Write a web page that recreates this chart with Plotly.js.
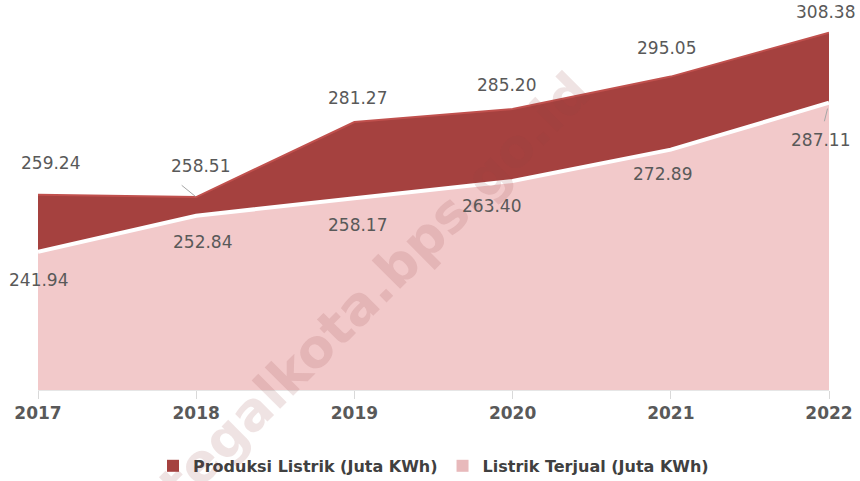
<!DOCTYPE html>
<html>
<head>
<meta charset="utf-8">
<script src="https://cdn.plot.ly/plotly-3.0.1.min.js"></script>
<style>html,body{margin:0;padding:0;background:#fff;}#chart{width:860px;height:481px;}</style>
</head>
<body>
<div id="chart"></div>
<script>
const years = [2017, 2018, 2019, 2020, 2021, 2022];
const produksi = [259.24, 258.51, 281.27, 285.20, 295.05, 308.38];
const terjual = [241.94, 252.84, 258.17, 263.40, 272.89, 287.11];
const seriesNames = ['Produksi Listrik (Juta KWh)', 'Listrik Terjual (Juta KWh)'];
const fillColors = ['#A5413F', '#F2C9CA'];
const legendColors = ['#A5413F', '#E8B9BB'];

// label offsets (px) for value labels
const prodShift = [[12, 32], [4, 31], [3, 24], [-6, 24], [-4, 29], [-4, 21]];
const terjShift = [[0, -28], [6, -26], [3, -27], [-21, -25], [-8, -24], [-9, -37]];

const labelFont = {family: 'DejaVu Sans', size: 17, color: '#595959'};
const annotations = [];
annotations.push({x: 0.425, y: 0.268, xref: 'paper', yref: 'paper', xanchor: 'center', yanchor: 'middle',
  text: 'tegalkota.bps.go.id', showarrow: false, textangle: -45,
  font: {family: 'DejaVu Sans', size: 53, color: 'rgba(150,70,70,0.15)', weight: 'bold'}});
years.forEach((y, i) => {
  annotations.push({x: y, y: produksi[i], xref: 'x', yref: 'y', text: produksi[i].toFixed(2),
    showarrow: false, xshift: prodShift[i][0], yshift: prodShift[i][1], font: labelFont});
  annotations.push({x: y, y: terjual[i], xref: 'x', yref: 'y', text: terjual[i].toFixed(2),
    showarrow: false, xshift: terjShift[i][0], yshift: terjShift[i][1], font: labelFont});
});
// leader lines
annotations.push({x: years[1], y: produksi[1], xref: 'x', yref: 'y', text: '', showarrow: true,
  arrowhead: 0, arrowwidth: 1, arrowcolor: '#a6a6a6', ax: -16, ay: -13, standoff: 1});
annotations.push({x: years[5], y: terjual[5], xref: 'x', yref: 'y', text: '', showarrow: true,
  arrowhead: 0, arrowwidth: 1, arrowcolor: '#a6a6a6', ax: -5, ay: 20, standoff: 6});

const data = [
  {x: years, y: produksi, name: seriesNames[0], type: 'scatter', mode: 'lines', fill: 'tozeroy',
   fillcolor: fillColors[0], line: {color: '#C0504D', width: 2}, showlegend: false},
  {x: years, y: terjual, name: seriesNames[1], type: 'scatter', mode: 'lines', fill: 'tozeroy',
   fillcolor: fillColors[1], line: {color: '#FFFFFF', width: 4}, showlegend: false},
  {x: [null], y: [null], name: seriesNames[0], type: 'scatter', mode: 'markers',
   marker: {symbol: 'square', size: 12, color: legendColors[0]}},
  {x: [null], y: [null], name: seriesNames[1], type: 'scatter', mode: 'markers',
   marker: {symbol: 'square', size: 12, color: legendColors[1]}}
];

const layout = {
  width: 860, height: 481,
  margin: {l: 38, r: 31, t: 10, b: 91, autoexpand: false},
  paper_bgcolor: '#fff', plot_bgcolor: '#fff',
  showlegend: true,
  legend: {orientation: 'h', x: 0.5, xanchor: 'center', y: -0.155, yanchor: 'top', itemwidth: 30,
    font: {family: 'DejaVu Sans', size: 16, color: '#404040', weight: 'bold'}},
  xaxis: {range: [2017, 2022], tickvals: years, ticktext: years.map(String), showgrid: false, zeroline: false,
    ticks: 'outside', ticklen: 8, tickcolor: '#d9d9d9', showline: true, linecolor: '#e6e6e6',
    tickfont: {family: 'DejaVu Sans', size: 17, color: '#595959', weight: 'bold'}},
  yaxis: {range: [200, 315.25], visible: false, showgrid: false, zeroline: false},
  annotations: annotations
};
Plotly.newPlot('chart', data, layout, {displayModeBar: false, staticPlot: true});
</script>
</body>
</html>
